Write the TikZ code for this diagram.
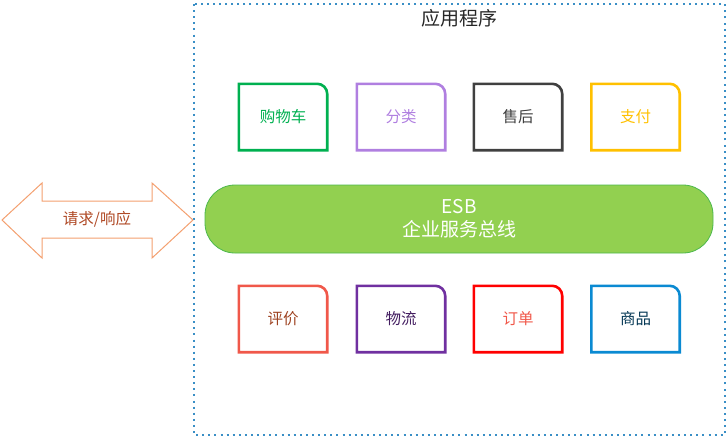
\documentclass[tikz,border=0pt]{standalone}
\usepackage{fontspec}
\setmainfont{Noto Sans CJK SC}
\begin{document}
\begin{tikzpicture}[x=1pt,y=-1pt,
  mod/.style={minimum width=88pt,minimum height=66pt,inner sep=0pt,font=\fontsize{15.5}{18}\selectfont},
  frame/.style={line width=2.6pt}]
\definecolor{cgreen}{HTML}{00B050}
\definecolor{cpurple}{HTML}{B07FE0}
\definecolor{cgray}{HTML}{404040}
\definecolor{cyellow}{HTML}{FFC000}
\definecolor{cred1}{HTML}{F0584A}
\definecolor{cpurple2}{HTML}{7030A0}
\definecolor{cred}{HTML}{FF0000}
\definecolor{cblue}{HTML}{0A8AD2}
\definecolor{cesb}{HTML}{92D050}
\definecolor{cesbline}{HTML}{4CB84C}
\definecolor{corange}{HTML}{F4A070}
\definecolor{cbrown}{HTML}{B04A26}
\definecolor{cdot}{HTML}{3A8FC6}
\useasboundingbox (0,0) rectangle (727,437);
% outer dotted frame
\draw[cdot,line width=2pt,dash pattern=on 2pt off 4.1pt] (194,4) rectangle (725,435);
\node[font=\fontsize{19}{22}\selectfont,text=black!85] (title) at (459,18) {应用程序};
% module boxes
\newcommand{\modbox}[6]{%
  \node[mod,text=#5] (#1) at (#2,#3) {#6};
  \draw[frame,draw=#4] (#1.south west) -- (#1.north west) -- ([xshift=-10pt]#1.north east)
    arc[start angle=90,end angle=0,radius=10pt] -- (#1.south east) -- cycle;}
\modbox{gwc}{283}{117}{cgreen}{cgreen}{购物车}
\modbox{fl}{401}{117}{cpurple}{cpurple}{分类}
\modbox{sh}{518}{117}{cgray}{cgray}{售后}
\modbox{zf}{635.5}{117}{cyellow}{cyellow}{支付}
\modbox{pj}{283}{319}{cred1}{cbrown!90!black}{评价}
\modbox{wl}{401}{319}{cpurple2}{cpurple2!60!black}{物流}
\modbox{dd}{518}{319}{cred}{cred1}{订单}
\modbox{sp}{635.5}{319}{cblue}{cblue!40!black}{商品}
% ESB bus
\node[draw=cesbline,fill=cesb,line width=0.8pt,rounded corners=30pt,minimum width=508pt,minimum height=68pt,
      text=white,align=center,font=\fontsize{19}{23}\selectfont] (esb) at (459,219) {ESB\\企业服务总线};
% request/response arrow
\draw[corange,line width=1pt,fill=white] (2,220) -- (42,183) -- (42,201) -- (152,201) -- (152,183) -- (193,220)
  -- (152,258) -- (152,238) -- (42,238) -- (42,258) -- cycle;
\node[text=cbrown,font=\fontsize{15.5}{18}\selectfont] (rr) at (97,219) {请求/响应};
\end{tikzpicture}
\end{document}
